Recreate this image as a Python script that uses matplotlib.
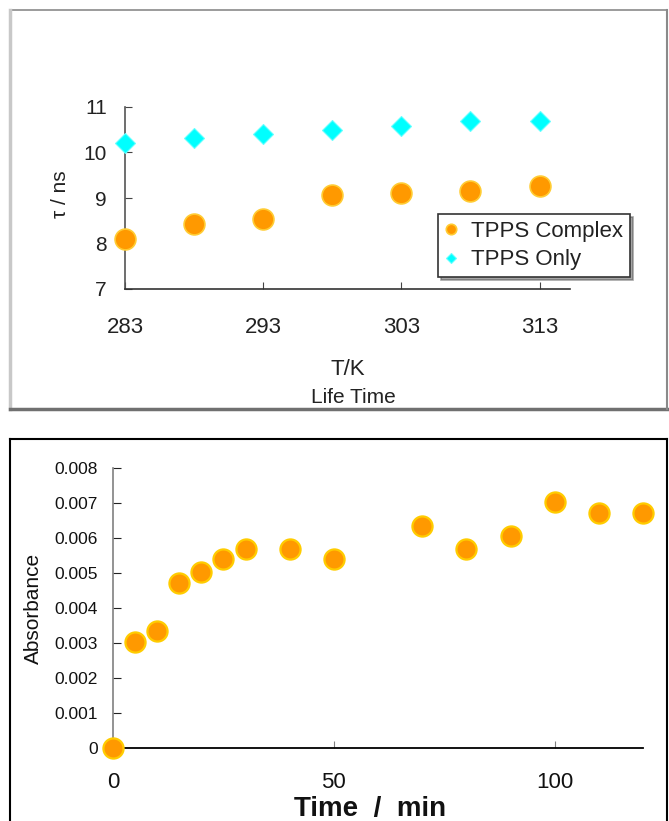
import matplotlib
matplotlib.use("Agg")
import matplotlib.pyplot as plt
from matplotlib.lines import Line2D

plt.rcParams['font.family'] = ['Liberation Sans', 'DejaVu Sans']

# ---- data ----
temps = [283, 288, 293, 298, 303, 308, 313]
tpps_complex = [8.09, 8.43, 8.53, 9.07, 9.11, 9.15, 9.26]
tpps_only = [10.20, 10.31, 10.40, 10.50, 10.59, 10.69, 10.69]
top_xticks = [283, 293, 303, 313]
top_yticks = [7, 8, 9, 10, 11]

time_min = [0, 5, 10, 15, 20, 25, 30, 40, 50, 70, 80, 90, 100, 110, 120]
absorbance = [0.0, 0.00302, 0.00334, 0.00472, 0.00502, 0.00539, 0.00568,
              0.00568, 0.00539, 0.00635, 0.00568, 0.00605, 0.00701,
              0.00671, 0.00671]
bot_xticks = [0, 50, 100]
bot_yticks = [0, 0.001, 0.002, 0.003, 0.004, 0.005, 0.006, 0.007, 0.008]
bot_yticklabels = ['0', '0.001', '0.002', '0.003', '0.004', '0.005',
                   '0.006', '0.007', '0.008']

W, H = 669, 821
fig = plt.figure(figsize=(W / 100, H / 100), dpi=100)
fig.patch.set_facecolor('white')


def fx(px):
    return px / W


def fy(py):
    return 1 - py / H


# ---- panel frames ----
frame_lines = [
    ((10, 667), (10, 10), '#8a8a8a', 1.2),
    ((10, 10), (10, 409), '#c8c8c8', 2.5),
    ((10, 667), (409, 409), '#707070', 2.5),
    ((667, 667), (10, 409), '#8a8a8a', 1.5),
    ((10, 667), (439, 439), '#000000', 1.5),
    ((10, 10), (439, 821), '#000000', 1.5),
    ((667, 667), (439, 821), '#000000', 1.5),
]
for xs, ys, c, lw in frame_lines:
    fig.add_artist(Line2D([fx(x) for x in xs], [fy(y) for y in ys],
                          color=c, linewidth=lw, transform=fig.transFigure))

# ---- top chart ----
ax1 = fig.add_axes([fx(125), fy(289), fx(570) - fx(125), fy(107) - fy(289)])
ax1.plot(temps, tpps_complex, linestyle='none', marker='o', markersize=15,
         markerfacecolor='#FF9900', markeredgecolor='#FFCC33',
         markeredgewidth=1.2, label='TPPS Complex', clip_on=False, zorder=3)
ax1.plot(temps, tpps_only, linestyle='none', marker='D', markersize=10,
         markerfacecolor='#00FFFF', markeredgecolor='#66FFFF',
         markeredgewidth=0.8, label='TPPS Only', clip_on=False, zorder=3)
ax1.set_xlim(283, 315.2)
ax1.set_ylim(7, 11)
ax1.set_xticks(top_xticks)
ax1.set_yticks(top_yticks)
for s in ['top', 'right']:
    ax1.spines[s].set_visible(False)
ax1.spines['left'].set_color('#555555')
ax1.spines['bottom'].set_color('#333333')
ax1.spines['left'].set_linewidth(1.2)
ax1.spines['bottom'].set_linewidth(1.2)
ax1.tick_params(axis='x', direction='in', length=5, pad=20, labelsize=16,
                colors='#444444', labelcolor='#222222')
ax1.tick_params(axis='y', direction='in', length=5, pad=13, labelsize=15,
                colors='#444444', labelcolor='#222222')
ax1.set_facecolor('none')

leg = ax1.legend(loc='upper left', bbox_to_anchor=(fx(438), fy(214)),
                 bbox_transform=fig.transFigure, fontsize=16,
                 markerscale=0.5, frameon=True, fancybox=False, shadow=True,
                 edgecolor='#333333', handlelength=0.6, handletextpad=0.6,
                 borderpad=0.3, labelspacing=0.35, borderaxespad=0)
leg.get_frame().set_linewidth(1.2)
for t in leg.get_texts():
    t.set_color('#222222')

fig.text(fx(61), fy(194), 'τ / ns', rotation=90, ha='center', va='center',
         fontsize=15, color='#222222')
fig.text(fx(348), fy(369), 'T/K', ha='center', va='center', fontsize=16,
         color='#222222')
fig.text(fx(353), fy(397), 'Life Time', ha='center', va='center',
         fontsize=15, color='#222222')

# ---- bottom chart ----
ax2 = fig.add_axes([fx(113), fy(748.3), fx(643) - fx(113),
                    fy(467.7) - fy(748.3)])
ax2.plot(time_min, absorbance, linestyle='none', marker='o', markersize=14.5,
         markerfacecolor='#FF9900', markeredgecolor='#FFCC00',
         markeredgewidth=1.6, clip_on=False, zorder=3)
ax2.set_xlim(0, 120)
ax2.set_ylim(0, 0.008)
ax2.set_xticks(bot_xticks)
ax2.set_yticks(bot_yticks)
ax2.set_yticklabels(bot_yticklabels)
for s in ['top', 'right']:
    ax2.spines[s].set_visible(False)
ax2.spines['left'].set_color('#808080')
ax2.spines['bottom'].set_color('#000000')
ax2.spines['left'].set_linewidth(1.2)
ax2.spines['bottom'].set_linewidth(1.3)
ax2.tick_params(axis='x', direction='in', length=5, pad=17, labelsize=16,
                colors='#808080', labelcolor='#111111')
ax2.tick_params(axis='y', direction='in', length=6, pad=11, labelsize=12.5,
                colors='#222222', labelcolor='#111111')
ax2.set_facecolor('none')

fig.text(fx(33), fy(608), 'Absorbance', rotation=90, ha='center',
         va='center', fontsize=15, color='#111111')
fig.text(fx(370), fy(809), 'Time  /  min', ha='center', va='center',
         fontsize=20, fontweight='bold', color='#111111')

fig.savefig('out.png', dpi=100, facecolor='white')
